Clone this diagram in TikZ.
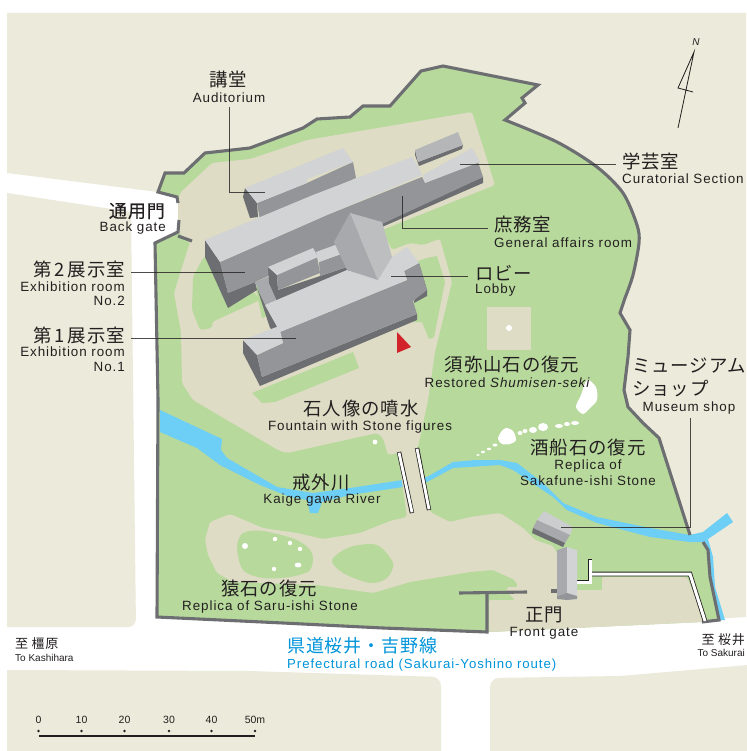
\documentclass[tikz,border=0pt]{standalone}
\usepackage{fontspec}
\setmainfont{Liberation Sans}
\newfontfamily\lat[LetterSpace=7]{Liberation Sans}
\newfontfamily\latn{Liberation Sans}
\newfontfamily\jp[LetterSpace=5]{Noto Sans CJK JP}
\newfontfamily\jpb[LetterSpace=5,FakeBold=0.4]{Noto Sans CJK JP}
\definecolor{cream}{HTML}{ECEADA}
\definecolor{tan}{HTML}{DEDCC5}
\definecolor{lawn}{HTML}{B7D99C}
\definecolor{water}{HTML}{6DCFF6}
\definecolor{wallc}{HTML}{6D6E71}
\definecolor{roofc}{HTML}{D1D3D4}
\definecolor{facec}{HTML}{939598}
\definecolor{midc}{HTML}{A7A9AC}
\definecolor{hipc}{HTML}{BCBEC0}
\definecolor{inkc}{HTML}{231F20}
\definecolor{bluec}{HTML}{0095DA}
\definecolor{redc}{HTML}{D2232A}
\tikzset{
  en/.style={font=\lat\fontsize{13.4}{15}\selectfont,text=inkc,inner sep=0pt},
  ja/.style={font=\jp\fontsize{18.4}{20}\selectfont,text=inkc,inner sep=0pt},
  wallline/.style={draw=wallc,line width=3.1pt,line join=miter},
  callout/.style={draw=inkc,line width=0.8pt,opacity=0.8},
  rock/.style={fill=white},
  roof/.style={fill=roofc},
  face/.style={fill=facec},
  dark/.style={fill=wallc},
  mid/.style={fill=midc},
}
\begin{document}
\begin{tikzpicture}[x=1pt,y=-1pt]
\useasboundingbox (0,0) rectangle (746,751);
\fill[white] (0,0) rectangle (746,751);
% ground
\fill[cream] (7,13) -- (746,13) -- (746,617) -- (489,632) -- (157,617) -- (158,400) -- (155,243) -- (178,232) -- (178,202) -- (177,197) -- (158,192) -- (7,173) -- cycle;
\fill[cream] (7,193) -- (131,212) [rounded corners=8pt] -- (136,627) [sharp corners] -- (7,627) -- cycle;
\fill[cream] (7,670) -- (250,671) [rounded corners=9pt] -- (441,677) [sharp corners] -- (441,760) -- (7,760) -- cycle;
\fill[cream] (760,664) -- (620,676) [rounded corners=9pt] -- (490,678) [sharp corners] -- (490,760) -- (760,760) -- cycle;
% park
\fill[lawn] (157,617) -- (158,400) -- (155,243) -- (178,232) -- (178,202) -- (177,197) -- (158,192) -- (165,173) -- (184,173) -- (205,153) -- (250,148) -- (303,128) -- (317,119) -- (350,117) -- (363,106) -- (390,106) -- (421,71) -- (443,66) -- (538,85) -- (522,98) -- (525,103) -- (505,120)
 -- plot[smooth] coordinates {(505,120) (557,142) (597,167) (623,193) (637,225) (639,243) (633,275) (625,298)}
 -- (620,313) -- (630,330) -- (628,357) -- (624,390) -- (628,407) -- (643,423) -- (659,438) -- (690,533) -- (703,542) -- (708,550) -- (710,577) -- (719,620) -- (702,622) -- (489,632) -- (383,628) -- (283,623) -- cycle;
% river
\fill[water] (160,410) -- (222,439) -- (221,450) -- (227,458) -- (277,487) -- (313,493) -- (350,488) -- (403,480) -- (427,477) -- (453,462) -- (475,460) -- (500,460) -- (517,463) -- (543,483) -- (563,503) -- (597,517) -- (650,528) -- (690,535) -- (703,532) -- (727,513) -- (733,522) -- (708,539) -- (713,557) -- (715,587) -- (725,620) -- (719,620) -- (710,577) -- (708,550) -- (703,542) -- (690,542) -- (650,537) -- (597,523) -- (567,510) -- (553,497) -- (513,470) -- (500,465) -- (453,468) -- (427,482) -- (403,487) -- (350,495) -- (322,502) -- (318,513) -- (310,513) -- (307,500) -- (290,497) -- (260,485) -- (220,465) -- (197,448) -- (160,432) -- cycle;
% paved ground
\fill[tan,rounded corners=2pt] (212,163) -- (250,159) -- (307,140) -- (472,112) -- (495,185) -- (382,230) -- (392,250) -- (410,243) -- (423,245) -- (440,239) -- (452,282) -- (435,352) -- (428,400) -- (418,447) -- (415,450) -- (430,512) -- (450,522) -- (470,517) -- (500,513) -- (523,528) -- (535,540) -- (553,546) -- (577,590) -- (602,590) -- (602,577) -- (687,577) -- (705,620) -- (702,622) -- (489,632) -- (489,600) -- (515,600) -- (507,592) -- (507,587) -- (518,587) -- (515,580) -- (493,570) -- (470,572) -- (410,582) -- (373,593) -- (317,585) -- (233,582) -- (217,573) -- (208,555) -- (205,540) -- (210,522) -- (230,514) -- (263,528) -- (297,533) -- (323,539) -- (360,533) -- (390,521) -- (407,517) -- (398,453) -- (388,455) -- (383,438) -- (377,433) -- (287,453) -- (278,450) -- (193,400) -- (182,383) -- (181,332) -- (174,293) -- (190,242) -- (178,232) -- (178,202) -- (180,193) -- cycle;
\fill[tan] (487,307) rectangle (531,350);
% lawns on the paved ground
\fill[lawn,rounded corners=2pt] (203,258) -- (193,277) -- (192,310) -- (200,330) -- (212,328) -- (212,322) -- (260,300) -- (220,250) -- cycle;
\fill[lawn] (255,285) -- (262,318) -- (272,314) -- (265,285) -- cycle;
\fill[lawn] (252,393) -- (353,352) -- (359,368) -- (275,402) -- (262,403) -- cycle;
\fill[lawn] (415,262) -- (427,258) -- (437,256) -- (445,282) -- (434,337) -- (429,339) -- (422,322) -- (413,322) -- cycle;
\fill[lawn] plot[smooth cycle] coordinates {(237,547) (243,533) (263,531) (297,540) (312,553) (310,570) (290,577) (263,578) (243,570)};
\fill[lawn] plot[smooth cycle] coordinates {(332,560) (350,547) (377,545) (393,563) (387,578) (370,583) (343,573)};
\fill[lawn] (577,577) rectangle (602,590);
% stones
\fill[rock] (509,328) circle (3);
\fill[rock] (375,442) circle (2.4);
\fill[rock] (245,546) circle (3);
\fill[rock] (275,539) circle (2.2);
\fill[rock] (290,543) circle (2.2);
\fill[rock] (300,549) circle (2.2);
\fill[rock] (298,565) ellipse (3.4 and 2.4);
\fill[rock] (274,569) circle (2.2);
\fill[rock] plot[smooth cycle] coordinates {(587,380) (596,387) (597,400) (590,408) (583,414) (576,407) (581,395)};
\fill[rock] plot[smooth cycle] coordinates {(506,428) (513,431) (516,440) (510,444) (502,444) (498,439) (501,432)};
\fill[rock] (520,433) ellipse (2.5 and 2);
\fill[rock] (525,431) ellipse (2.5 and 2);
\fill[rock] (533,430) ellipse (4 and 3);
\fill[rock] (543,427) ellipse (5 and 4);
\fill[rock] (559,426) ellipse (4 and 2);
\fill[rock] (567,424) ellipse (3 and 2);
\fill[rock] (575,423) ellipse (4 and 2);
\fill[rock] (495,445) ellipse (2.5 and 1.5);
\fill[rock] (489,449) ellipse (2.2 and 1.3);
\fill[rock] (483,452) ellipse (2 and 1.2);
\fill[rock] (478,455) ellipse (1.8 and 1);
% park walls
\draw[wallline] (179,220) -- (178,232) -- (155,243) -- (158,400) -- (157,617) -- (283,623) -- (383,628) -- (487,632) -- (487,593);
\draw[wallline] (178,236) -- (192,241);
\draw[wallline] (178,203) -- (177,197) -- (158,192) -- (165,173) -- (184,173) -- (205,153) -- (250,148) -- (303,128) -- (317,119) -- (350,117) -- (363,106) -- (390,106) -- (421,71) -- (443,66) -- (538,85) -- (522,98) -- (525,103) -- (505,120)
 -- plot[smooth] coordinates {(505,120) (557,142) (597,167) (623,193) (637,225) (639,243) (633,275) (625,298)}
 -- (620,313) -- (630,330) -- (628,357) -- (624,390) -- (628,407) -- (643,423) -- (659,438) -- (690,535);
\draw[wallline] (703,542) -- (708,550) -- (710,577) -- (719,620) -- (702,622);
\draw[wallline] (459,593) -- (527,592);
\draw[wallline] (551,591) -- (558,591);
% white walls at the front gate
\draw[inkc,line width=4.6pt] (590,559) -- (590,582) -- (577,582);
\draw[inkc,line width=4.6pt] (590,574) -- (690,574) -- (705,621);
\draw[white,line width=3pt] (590,560) -- (590,582) -- (577,582);
\draw[white,line width=3pt] (590,574) -- (690,574) -- (705,621);
% bridges
\draw[inkc,line width=4.4pt] (399,452) -- (412,513);
\draw[inkc,line width=4.4pt] (417,448) -- (429,510);
\draw[white,line width=2.8pt] (399,452.7) -- (412,512.3);
\draw[white,line width=2.8pt] (417,448.7) -- (429,509.3);
% auditorium
\fill[dark] (245,188) -- (257,203) -- (258,217) -- (250,218) -- (243,197) -- cycle;
\fill[face] (257,203) -- (307,183) -- (353,162) -- (356,178) -- (260,220) -- cycle;
\fill[roof] (245,188) -- (343,148) -- (353,162) -- (307,179) -- (307,183) -- (257,203) -- cycle;
% small building north-east
\fill[dark] (415,150) -- (418,162) -- (463,145) -- (462,149) -- (419,166) -- (415,155) -- cycle;
\fill[midc!70!roofc] (415,150) -- (458,132) -- (463,145) -- (418,162) -- cycle;
% exhibition room 2 and curatorial wing
\fill[dark] (205,240) -- (220,262) -- (228,293) -- (255,282) -- (257,290) -- (228,308) -- (205,257) -- cycle;
\fill[dark] (483,177) -- (483,183) -- (382,227) -- (380,222) -- cycle;
\fill[face] (220,262) -- (327,215) -- (422,177) -- (425,183) -- (478,162) -- (483,177) -- (380,225) -- (340,245) -- (300,262) -- (255,282) -- (228,293) -- cycle;
\fill[roof] (205,240) -- (313,195) -- (412,157) -- (418,166) -- (422,175) -- (327,215) -- (220,262) -- cycle;
\fill[roof] (423,175) -- (472,148) -- (480,162) -- (425,183) -- cycle;
% link between the wings
\fill[mid] (255,282) -- (268,277) -- (278,300) -- (265,305) -- cycle;
\fill[dark] (257,288) -- (265,305) -- (283,337) -- (270,328) -- cycle;
% inner wing
\fill[dark] (268,267) -- (277,275) -- (278,290) -- (347,267) -- (350,272) -- (277,301) -- (269,283) -- cycle;
\fill[face] (277,275) -- (317,257) -- (320,273) -- (278,290) -- cycle;
\fill[roof] (268,267) -- (313,248) -- (318,257) -- (277,275) -- cycle;
\fill[face] (319,262) -- (344,253) -- (347,267) -- (320,276) -- cycle;
\fill[roof] (316,252) -- (338,244) -- (344,253) -- (319,262) -- cycle;
% exhibition room 1
\fill[dark] (243,340) -- (257,355) -- (262,377) -- (417,314) -- (417,320) -- (260,386) -- (243,353) -- cycle;
\fill[dark] (419,263) -- (427,290) -- (427,296) -- (414,303) -- cycle;
\fill[face] (257,355) -- (283,343) -- (280,332) -- (407,280) -- (404,271) -- (419,263) -- (427,290) -- (413,301) -- (417,314) -- (262,377) -- cycle;
\fill[roof] (265,305) -- (347,270) -- (378,280) -- (392,257) -- (407,247) -- (419,263) -- (404,271) -- (407,280) -- (280,332) -- cycle;
\fill[roof] (243,340) -- (279,326) -- (283,343) -- (257,355) -- cycle;
% lobby hipped roof
\fill[mid] (350,213) -- (334,242) -- (347,270) -- (378,280) -- cycle;
\fill[hipc] (350,213) -- (382,222) -- (392,257) -- (378,280) -- cycle;
% shop
\fill[roofc!85!midc] (544,511) -- (573,527) -- (570,535) -- (537,520) -- cycle;
\fill[midc] (537,520) -- (570,535) -- (565,543) -- (533,528) -- cycle;
\fill[dark] (533,528) -- (565,543) -- (563,547) -- (532,533) -- cycle;
% front gate
\fill[midc] (557,550) -- (567,547) -- (567,593) -- (557,596) -- cycle;
\fill[roof] (567,547) -- (577,550) -- (577,596) -- (567,593) -- cycle;
\fill[face] (557,596) -- (567,593) -- (577,596) -- (577,599) -- (567,600) -- (557,599) -- cycle;
% entrance mark
\fill[redc] (397,332) -- (411,347) -- (397,353) -- cycle;
% north arrow
\coordinate (ntip) at (694,52);
\coordinate (nfoot) at (678,128);
\coordinate (nleft) at (678,88);
\coordinate (nright) at (693,92);
\draw[inkc,line width=0.8pt] (nfoot) -- (ntip) -- (nleft) -- (nright);
\node[font=\latn\itshape\fontsize{10}{12}\selectfont,text=inkc,inner sep=0pt] (north) at (696,42) {N};
% labels
\node[ja] (aud) at (228.5,80) {講堂};
\node[en] (auden) at (229,98) {Auditorium};
\node[font=\jpb\fontsize{18}{20}\selectfont,text=inkc,inner sep=0pt,anchor=east] (back) at (165,211) {通用門};
\node[en,anchor=east] (backen) at (166,228) {Back gate};
\node[ja,anchor=east] (ex2) at (125,269) {第\kern3pt 2\kern3pt 展示室};
\node[en,anchor=east] (ex2a) at (125,287) {Exhibition room};
\node[en,anchor=east] (ex2b) at (125,301) {No.2};
\node[ja,anchor=east] (ex1) at (125,335) {第\kern3pt 1\kern3pt 展示室};
\node[en,anchor=east] (ex1a) at (125,352) {Exhibition room};
\node[en,anchor=east] (ex1b) at (125,367) {No.1};
\node[ja,anchor=west] (gen) at (494,225) {庶務室};
\node[en,anchor=west] (genen) at (494,243) {General affairs room};
\node[ja,anchor=west] (cur) at (622,162) {学芸室};
\node[en,anchor=west] (curen) at (622,179) {Curatorial Section};
\node[ja,anchor=west] (lob) at (475,273) {ロビー};
\node[en,anchor=west] (loben) at (475,290) {Lobby};
\node[ja] (shu) at (512,365) {須弥山石の復元};
\node[en] (shuen) at (507,383) {Restored {\itshape Shumisen-seki}};
\node[ja,anchor=west] (mus1) at (632,366) {ミュージアム};
\node[ja,anchor=west] (mus2) at (632,389) {ショップ};
\node[en] (musen) at (689,408) {Museum shop};
\node[ja] (fou) at (361,409) {石人像の噴水};
\node[en] (fouen) at (360,427) {Fountain with Stone figures};
\node[ja] (sak) at (588,448) {酒船石の復元};
\node[en] (saka) at (588,466) {Replica of};
\node[en] (sakb) at (588,481) {Sakafune-ishi Stone};
\node[ja] (kai) at (321,483) {戒外川};
\node[en] (kaien) at (322,500) {Kaige gawa River};
\node[ja] (sar) at (269,589) {猿石の復元};
\node[en] (saren) at (270,607) {Replica of Saru-ishi Stone};
\node[ja] (fro) at (544,615) {正門};
\node[en] (froen) at (544,633) {Front gate};
\node[font=\jp\fontsize{13}{15}\selectfont,text=inkc,inner sep=0pt,anchor=west] (kas) at (15,644) {至 橿原};
\node[font=\latn\fontsize{10}{12}\selectfont,text=inkc,inner sep=0pt,anchor=west] (kasen) at (15,658) {To Kashihara};
\node[font=\jp\fontsize{13}{15}\selectfont,text=inkc,inner sep=0pt,anchor=east] (sku) at (745,640) {至 桜井};
\node[font=\latn\fontsize{10}{12}\selectfont,text=inkc,inner sep=0pt,anchor=east] (skuen) at (745,653) {To Sakurai};
\node[font=\jp\fontsize{18}{20}\selectfont,text=bluec,inner sep=0pt,anchor=west] (ken) at (287,646) {県道桜井・吉野線};
\node[font=\lat\fontsize{13.2}{15}\selectfont,text=bluec,inner sep=0pt,anchor=west] (kenen) at (287,665) {Prefectural road (Sakurai-Yoshino route)};
% callouts
\coordinate (c1) at (229,107); \coordinate (c1b) at (229,192); \coordinate (c1e) at (265,192);
\draw[callout] (c1) -- (c1b) -- (c1e);
\coordinate (c2) at (402,196); \coordinate (c2b) at (402,228); \coordinate (c2e) at (488,228);
\draw[callout] (c2) -- (c2b) -- (c2e);
\coordinate (c3) at (460,164); \coordinate (c3e) at (616,164);
\draw[callout] (c3) -- (c3e);
\coordinate (c4) at (391,276); \coordinate (c4e) at (468,276);
\draw[callout] (c4) -- (c4e);
\coordinate (c5) at (131,272); \coordinate (c5e) at (245,272);
\draw[callout] (c5) -- (c5e);
\coordinate (c6) at (131,338); \coordinate (c6e) at (296,338);
\draw[callout] (c6) -- (c6e);
\coordinate (c7) at (690,418); \coordinate (c7b) at (690,527); \coordinate (c7e) at (561,527);
\draw[callout] (c7) -- (c7b) -- (c7e);
% scale
\foreach \xx/\lab/\n in {38.5/0/a,81.5/10/b,124.5/20/c,169/30/d,211.5/40/e,255/50m/f}{
  \node[font=\latn\fontsize{10.5}{12}\selectfont,text=inkc,inner sep=0pt] (sc\n) at (\xx,720) {\lab};
  \fill[inkc] (\xx,731) circle (1.3);
}
\coordinate (sl) at (38.5,736); \coordinate (sr) at (255,736);
\draw[inkc,line width=1.3pt] (sl) -- (sr);
\end{tikzpicture}
\end{document}
